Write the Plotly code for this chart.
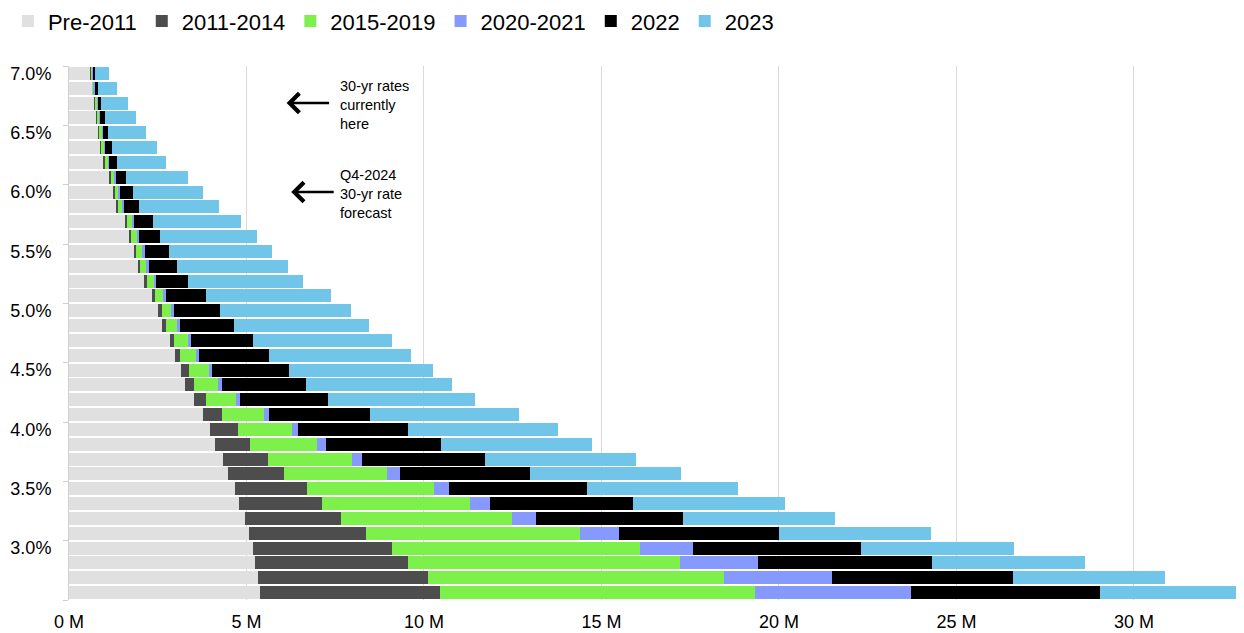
import plotly.graph_objects as go

# Mortgage rate buckets (top row = 7.0%, bottom row = 2.625%)
rates = [7.0, 6.875, 6.75, 6.625, 6.5, 6.375, 6.25, 6.125, 6.0, 5.875, 5.75, 5.625,
         5.5, 5.375, 5.25, 5.125, 5.0, 4.875, 4.75, 4.625, 4.5, 4.375, 4.25, 4.125,
         4.0, 3.875, 3.75, 3.625, 3.5, 3.375, 3.25, 3.125, 3.0, 2.875, 2.75, 2.625]

# Outstanding mortgages (millions) by origination vintage
pre_2011 = [0.60, 0.65, 0.72, 0.78, 0.83, 0.89, 0.98, 1.14, 1.26, 1.35, 1.58, 1.71,
            1.84, 1.93, 2.12, 2.35, 2.51, 2.62, 2.84, 2.98, 3.15, 3.26, 3.52, 3.78,
            3.97, 4.12, 4.33, 4.49, 4.68, 4.79, 4.96, 5.07, 5.17, 5.23, 5.31, 5.37]
y2011_2014 = [0.03, 0.02, 0.02, 0.02, 0.02, 0.02, 0.03, 0.03, 0.03, 0.04, 0.05, 0.05,
              0.06, 0.07, 0.08, 0.08, 0.10, 0.10, 0.11, 0.15, 0.22, 0.26, 0.35, 0.52,
              0.78, 0.99, 1.28, 1.58, 2.02, 2.33, 2.70, 3.30, 3.92, 4.31, 4.80, 5.09]
y2015_2019 = [0.04, 0.03, 0.06, 0.06, 0.08, 0.09, 0.10, 0.10, 0.11, 0.12, 0.15, 0.15,
              0.17, 0.18, 0.19, 0.22, 0.25, 0.31, 0.39, 0.44, 0.56, 0.68, 0.83, 1.18,
              1.53, 1.88, 2.37, 2.90, 3.57, 4.17, 4.81, 6.03, 7.00, 7.68, 8.34, 8.86]
y2020_2021 = [0.02, 0.03, 0.02, 0.02, 0.03, 0.02, 0.03, 0.04, 0.05, 0.05, 0.06, 0.06,
              0.07, 0.06, 0.07, 0.07, 0.09, 0.09, 0.09, 0.09, 0.10, 0.12, 0.13, 0.16,
              0.18, 0.24, 0.28, 0.35, 0.43, 0.56, 0.68, 1.10, 1.48, 2.18, 3.03, 4.39]
y2022 = [0.05, 0.08, 0.09, 0.12, 0.14, 0.19, 0.21, 0.29, 0.34, 0.41, 0.52, 0.59,
         0.67, 0.80, 0.88, 1.13, 1.30, 1.52, 1.75, 1.97, 2.16, 2.35, 2.47, 2.84,
         3.09, 3.25, 3.46, 3.67, 3.88, 4.03, 4.14, 4.51, 4.75, 4.92, 5.10, 5.32]
y2023 = [0.40, 0.55, 0.74, 0.90, 1.08, 1.28, 1.38, 1.75, 1.99, 2.26, 2.49, 2.73,
         2.92, 3.14, 3.25, 3.53, 3.69, 3.80, 3.91, 3.99, 4.07, 4.11, 4.13, 4.20,
         4.23, 4.24, 4.25, 4.25, 4.27, 4.28, 4.28, 4.28, 4.29, 4.29, 4.30, 4.30]

series_names = ["Pre-2011", "2011-2014", "2015-2019", "2020-2021", "2022", "2023"]
series_values = [pre_2011, y2011_2014, y2015_2019, y2020_2021, y2022, y2023]
colors = ["#e0e0e0", "#4d4d4d", "#7ef04b", "#8599ff", "#000000", "#71c5e8"]

x_tickvals = [0, 5, 10, 15, 20, 25, 30]
x_ticktext = ["0 M", "5 M", "10 M", "15 M", "20 M", "25 M", "30 M"]
y_tickvals = [3.0, 3.5, 4.0, 4.5, 5.0, 5.5, 6.0, 6.5, 7.0]
y_ticktext = ["3.0%", "3.5%", "4.0%", "4.5%", "5.0%", "5.5%", "6.0%", "6.5%", "7.0%"]

FONT = "Arial, Liberation Sans, sans-serif"

fig = go.Figure()
for name, vals, col in zip(series_names, series_values, colors):
    fig.add_trace(go.Bar(
        x=vals, y=rates, orientation="h", name=name,
        marker=dict(color=col, line=dict(width=0)),
    ))

# The page body adds an 8px offset, so the figure is 8px smaller than the window
fig.update_layout(
    barmode="stack",
    bargap=0.13,
    width=1236, height=625,
    margin=dict(l=61, r=0, t=58, b=33, autoexpand=False),
    paper_bgcolor="white", plot_bgcolor="white",
    font=dict(family=FONT, color="#000000"),
    legend=dict(
        orientation="h", xref="paper", yref="paper",
        x=-0.052, y=1.123, xanchor="left", yanchor="top",
        font=dict(size=22, family=FONT), traceorder="normal",
        bgcolor="rgba(0,0,0,0)",
    ),
    xaxis=dict(
        range=[0, 33.1], tickvals=x_tickvals, ticktext=x_ticktext,
        showgrid=True, gridcolor="#d9d9d9", gridwidth=1.3,
        zeroline=False, showline=False, ticks="", automargin=False,
        ticklabelstandoff=9,
        tickfont=dict(size=18, family=FONT),
    ),
    yaxis=dict(
        range=[2.5625, 7.0625], tickvals=y_tickvals, ticktext=y_ticktext,
        showgrid=False, zeroline=False, showline=True, automargin=False,
        linecolor="#d0d0d0", linewidth=1, ticks="",
        ticklabelstandoff=13,
        tickfont=dict(size=18, family=FONT),
        minor=dict(ticks="outside", tick0=2.5625, dtick=0.5, ticklen=5,
                   tickcolor="#d0d0d0", tickwidth=1, showgrid=False),
    ),
)

arrow_kw = dict(xref="x", yref="y", axref="pixel", ayref="pixel", text="",
                showarrow=True, arrowhead=4, arrowsize=1.5, arrowwidth=2.5,
                arrowcolor="#000000", ax=44, ay=0)
fig.add_annotation(x=6.13, y=6.75, **arrow_kw)
fig.add_annotation(x=6.26, y=6.0, **arrow_kw)

fig.add_annotation(x=7.58, y=6.735, xref="x", yref="y", xanchor="left", yanchor="middle",
                   align="left", showarrow=False,
                   text="30-yr rates<br>currently<br>here",
                   font=dict(size=14.5, family=FONT, color="#000000"))
fig.add_annotation(x=7.58, y=5.985, xref="x", yref="y", xanchor="left", yanchor="middle",
                   align="left", showarrow=False,
                   text="Q4-2024<br>30-yr rate<br>forecast",
                   font=dict(size=14.5, family=FONT, color="#000000"))

fig.write_html("out.html")
